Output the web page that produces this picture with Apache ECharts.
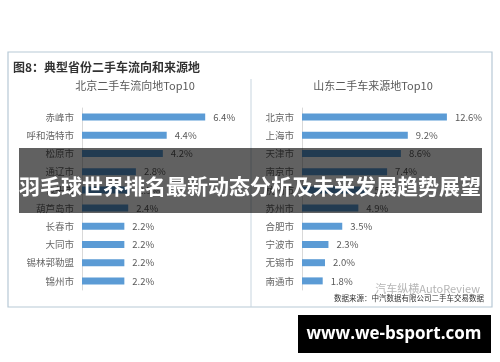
<!DOCTYPE html>
<html><head><meta charset="utf-8">
<script src="https://cdn.jsdelivr.net/npm/echarts@6/dist/echarts.min.js"></script>
<style>html,body{margin:0;padding:0;background:#fff}#c{width:500px;height:362px}</style>
</head><body><div id="c"></div>
<script>
const leftCategories = ['赤峰市','呼和浩特市','松原市','通辽市','包头市','葫芦岛市','长春市','大同市','锡林郭勒盟','锦州市'];
const leftValues = [6.4, 4.4, 4.2, 2.8, 2.5, 2.4, 2.2, 2.2, 2.2, 2.2];
const rightCategories = ['北京市','上海市','天津市','南京市','杭州市','苏州市','合肥市','宁波市','无锡市','南通市'];
const rightValues = [12.6, 9.2, 8.6, 7.4, 5.6, 4.9, 3.5, 2.3, 2.0, 1.8];
const mainTitle = '图8：典型省份二手车流向和来源地';
const leftTitle = '北京二手车流向地Top10';
const rightTitle = '山东二手车来源地Top10';
const sourceText = '数据来源：中汽数据有限公司二手车交易数据';
const wmText = '汽车纵横AutoReview';
const bannerText = '羽毛球世界排名最新动态分析及未来发展趋势展望';
const siteText = 'www.we-bsport.com';

const FONT = '"Noto Sans CJK SC", "Liberation Sans", sans-serif';
const chart = echarts.init(document.getElementById('c'));
const catAxis = (gi, data) => ({
  type: 'category', gridIndex: gi, data: data, inverse: true,
  axisLine: {show: true, lineStyle: {color: '#d9d9d9'}},
  axisTick: {show: false},
  axisLabel: {color: '#666', fontSize: 9.5, margin: 8, fontFamily: FONT}
});
const valAxis = (gi, max) => ({
  type: 'value', gridIndex: gi, min: 0, max: max, show: false
});
const barSeries = (i, data) => ({
  type: 'bar', xAxisIndex: i, yAxisIndex: i, data: data, barWidth: 7,
  itemStyle: {color: '#5b9bd5'},
  label: {show: true, position: 'right', distance: 8, color: '#595959', fontSize: 9.5,
    fontFamily: FONT, formatter: p => p.value.toFixed(1) + '%'}
});
chart.setOption({
  animation: false,
  backgroundColor: '#fff',
  grid: [
    {left: 82, top: 108, width: 154, height: 182},
    {left: 302, top: 108, width: 184, height: 182}
  ],
  xAxis: [valAxis(0, 8), valAxis(1, 16)],
  yAxis: [catAxis(0, leftCategories), catAxis(1, rightCategories)],
  series: [barSeries(0, leftValues), barSeries(1, rightValues)],
  graphic: [
    {type: 'rect', shape: {x: 8, y: 52, width: 484, height: 255}, style: {fill: 'none', stroke: '#b7c9d6', lineWidth: 1.2}, z: 1},
    {type: 'line', shape: {x1: 251, y1: 79, x2: 251, y2: 307}, style: {stroke: '#c8d5df', lineWidth: 1}, z: 1},
    {type: 'text', left: 13, top: 61, style: {text: mainTitle, fill: '#333', font: 'bold 12px ' + FONT}, z: 2},
    {type: 'text', x: 135, y: 86, style: {text: leftTitle, fill: '#595959', font: '11px ' + FONT, textAlign: 'center', textVerticalAlign: 'middle'}, z: 2},
    {type: 'text', x: 373, y: 86, style: {text: rightTitle, fill: '#595959', font: '11px ' + FONT, textAlign: 'center', textVerticalAlign: 'middle'}, z: 2},
    {type: 'text', x: 480, y: 289, style: {text: wmText, fill: '#b5b5b5', font: '11px ' + FONT, textAlign: 'right', textVerticalAlign: 'middle'}, z: 2},
    {type: 'text', x: 484, y: 298.5, style: {text: sourceText, fill: '#333', font: '7.5px ' + FONT, textAlign: 'right', textVerticalAlign: 'middle'}, z: 2},
    {type: 'rect', shape: {x: 19, y: 148, width: 463, height: 65}, style: {fill: 'rgba(0,0,0,0.62)'}, z: 100},
    {type: 'text', x: 250, y: 186, style: {text: bannerText, fill: '#fff', font: 'bold 21px ' + FONT, textAlign: 'center', textVerticalAlign: 'middle'}, z: 101},
    {type: 'rect', shape: {x: 298, y: 315, width: 193, height: 38}, style: {fill: '#000'}, z: 100},
    {type: 'text', x: 394, y: 334, style: {text: siteText, fill: '#fff', font: 'bold 17px "Open Sans", "DejaVu Sans", sans-serif', textAlign: 'center', textVerticalAlign: 'middle'}, z: 101}
  ]
});
</script></body></html>
